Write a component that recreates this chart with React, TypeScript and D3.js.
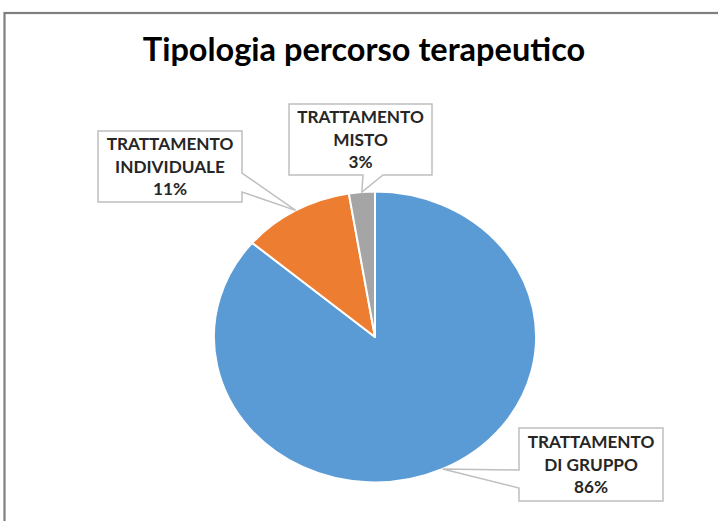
import React from "react";
import * as d3 from "d3";

const categories = ["TRATTAMENTO\nDI GRUPPO", "TRATTAMENTO\nINDIVIDUALE", "TRATTAMENTO\nMISTO"];
const values = [86.2, 11.2, 2.6];
const colors = ["#5B9BD5", "#ED7D31", "#A5A5A5"];
const title = "Tipologia percorso terapeutico";

// layout of callout boxes (x, y, w, h, side where the pointer attaches, base start/end along that side)
const boxes = [
  { x: 519, y: 428, w: 144, h: 73, side: "left", b0: 470, b1: 488 },
  { x: 98, y: 131, w: 144, h: 71, side: "right", b0: 173, b1: 192 },
  { x: 289, y: 104, w: 143, h: 71, side: "bottom", b0: 363, b1: 383 },
];

const W = 718, H = 521;
const cx = 375, cy = 337, r = 145.5, sx = 1.107;

function calloutPath(b: any, tip: [number, number]) {
  const { x, y, w, h, side, b0, b1 } = b;
  const R = x + w, B = y + h;
  const p = d3.path();
  p.moveTo(x, y);
  p.lineTo(R, y);
  if (side === "right") {
    p.lineTo(R, b0); p.lineTo(tip[0], tip[1]); p.lineTo(R, b1);
  }
  p.lineTo(R, B);
  if (side === "bottom") {
    p.lineTo(b1, B); p.lineTo(tip[0], tip[1]); p.lineTo(b0, B);
  }
  p.lineTo(x, B);
  if (side === "left") {
    p.lineTo(x, b1); p.lineTo(tip[0], tip[1]); p.lineTo(x, b0);
  }
  p.closePath();
  return p.toString();
}

export default function App() {
  const total = d3.sum(values);
  const pie = d3.pie<number>().sort(null).startAngle(0).endAngle(2 * Math.PI);
  const arcs = pie(values);
  const arc = d3.arc<d3.PieArcDatum<number>>().innerRadius(0).outerRadius(r);

  return (
    <svg width={W} height={H} style={{ position: "fixed", left: 0, top: 0, background: "#fff" }}>
      <rect x={0} y={0} width={W} height={H} fill="#fff" />
      <rect x={4.5} y={13} width={W + 20} height={H + 20} fill="none" stroke="#7f7f7f" strokeWidth={2.2} />
      <text x={364} y={61} textAnchor="middle" fontFamily="Lato, 'Open Sans', sans-serif" fontWeight={700} fontSize={32.5} fill="#000">
        {title}
      </text>
      <g transform={`translate(${cx},${cy}) scale(${sx},1)`}>
        {arcs.map((a, i) => (
          <path key={i} d={arc(a) || ""} fill={colors[i]} stroke="#fff" strokeWidth={2} vectorEffect="non-scaling-stroke" strokeLinejoin="round" />
        ))}
      </g>
      {arcs.map((a, i) => {
        const mid = (a.startAngle + a.endAngle) / 2;
        const tip: [number, number] = [cx + Math.sin(mid) * r * sx, cy - Math.cos(mid) * r];
        const b = boxes[i];
        const lines = categories[i].split("\n").concat([`${Math.round((values[i] / total) * 100)}%`]);
        const ccx = b.x + b.w / 2;
        const ccy = b.y + b.h / 2;
        return (
          <g key={i}>
            <path d={calloutPath(b, tip)} fill="#fff" stroke="#bfbfbf" strokeWidth={1.5} />
            {lines.map((t, j) => (
              <text key={j} x={ccx} y={ccy + (j - 1) * 22.5 + 6} textAnchor="middle"
                fontFamily="Lato, 'Open Sans', sans-serif" fontWeight={700} fontSize={17.2} fill="#262626">
                {t}
              </text>
            ))}
          </g>
        );
      })}
    </svg>
  );
}
